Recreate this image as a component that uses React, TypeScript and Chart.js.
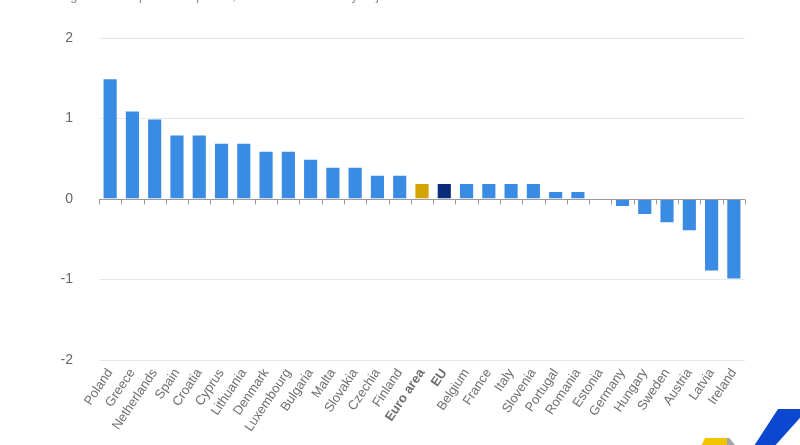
import React, { useEffect, useRef } from "react";
import { Chart, registerables } from "chart.js";

Chart.register(...registerables);

const categories = [
  "Poland", "Greece", "Netherlands", "Spain", "Croatia", "Cyprus", "Lithuania",
  "Denmark", "Luxembourg", "Bulgaria", "Malta", "Slovakia", "Czechia", "Finland",
  "Euro area", "EU", "Belgium", "France", "Italy", "Slovenia", "Portugal",
  "Romania", "Estonia", "Germany", "Hungary", "Sweden", "Austria", "Latvia", "Ireland",
];
const values = [
  1.5, 1.1, 1.0, 0.8, 0.8, 0.7, 0.7,
  0.6, 0.6, 0.5, 0.4, 0.4, 0.3, 0.3,
  0.2, 0.2, 0.2, 0.2, 0.2, 0.2, 0.1,
  0.1, 0.0, -0.1, -0.2, -0.3, -0.4, -0.9, -1.0,
];
const yTicks = [-2, -1, 0, 1, 2];
const boldCategories = ["Euro area", "EU"];
const subtitle = "% change over the previous quarter, based on seasonally adjusted data";

const BLUE = "#3a8be3";
const GOLD = "#d3a400";
const NAVY = "#0b2c7a";

const barColor = (label: string) =>
  label === "Euro area" ? GOLD : label === "EU" ? NAVY : BLUE;

const zeroLinePlugin = {
  id: "zeroLine",
  afterDatasetsDraw(chart: any) {
    const { ctx, chartArea, scales } = chart;
    const x = scales.x;
    const y = scales.y;
    const y0 = Math.round(y.getPixelForValue(0)) + 0.5;
    ctx.save();
    ctx.strokeStyle = "#9a9a9a";
    ctx.lineWidth = 1;
    ctx.beginPath();
    ctx.moveTo(chartArea.left, y0);
    ctx.lineTo(chartArea.right, y0);
    const n = categories.length;
    const w = (chartArea.right - chartArea.left) / n;
    for (let i = 0; i <= n; i++) {
      const px = Math.round(x.getPixelForValue(0) - w / 2 + i * w) + 0.5;
      ctx.moveTo(px, y0);
      ctx.lineTo(px, y0 + 5);
    }
    ctx.stroke();
    ctx.restore();
  },
};

export default function App() {
  const ref = useRef<HTMLCanvasElement>(null);
  useEffect(() => {
    document.body.style.margin = "0";
    const chart = new Chart(ref.current as HTMLCanvasElement, {
      type: "bar",
      data: {
        labels: categories,
        datasets: [
          {
            data: values,
            backgroundColor: categories.map(barColor),
            borderColor: "rgba(255,255,255,0.35)",
            borderWidth: 1,
            barPercentage: 0.68,
            categoryPercentage: 1,
          },
        ],
      },
      options: {
        animation: false,
        responsive: true,
        maintainAspectRatio: false,
        layout: { padding: { top: 38, right: 55, left: 0, bottom: 0 } },
        plugins: { legend: { display: false }, tooltip: { enabled: false } },
        scales: {
          x: {
            grid: { display: false, drawTicks: false },
            border: { display: false },
            afterFit(scale: any) {
              scale.height = 85;
            },
            ticks: {
              autoSkip: false,
              maxRotation: 56,
              minRotation: 56,
              padding: 6,
              color: "#6e6e6e",
              font: (c: any) => ({
                family: "Liberation Sans, Arial, sans-serif",
                size: 13,
                weight: boldCategories.includes(categories[c.index]) ? "bold" : "normal",
              }),
            },
          },
          y: {
            min: -2,
            max: 2,
            afterFit(scale: any) {
              scale.width = 99;
            },
            afterBuildTicks(scale: any) {
              scale.ticks = yTicks.map((v) => ({ value: v }));
            },
            grid: {
              drawTicks: false,
              color: (c: any) => (c.tick && c.tick.value === 0 ? "rgba(0,0,0,0)" : "#e3e7ef"),
            },
            border: { display: false },
            ticks: {
              padding: 26,
              color: "#666666",
              font: { family: "Liberation Sans, Arial, sans-serif", size: 14 },
            },
          },
        },
      },
      plugins: [zeroLinePlugin],
    });
    return () => chart.destroy();
  }, []);

  return (
    <div style={{ position: "absolute", left: 0, top: 0, width: 800, height: 445, overflow: "hidden", background: "#fff" }}>
      <div
        style={{
          position: "absolute",
          left: 27,
          top: -12,
          fontFamily: "Liberation Sans, Arial, sans-serif",
          fontSize: 13,
          color: "#8a8a8a",
          whiteSpace: "nowrap",
        }}
      >
        {subtitle}
      </div>
      <canvas ref={ref} />
      <div
        style={{
          position: "absolute",
          left: 700,
          top: 438,
          width: 34,
          height: 10,
          background: "#f2c400",
          clipPath: "polygon(15% 0, 80% 0, 100% 70%, 100% 100%, 0 100%)",
        }}
      />
      <div
        style={{
          position: "absolute",
          left: 727,
          top: 438,
          width: 8,
          height: 10,
          background: "#a0a4ab",
          clipPath: "polygon(0 0, 30% 0, 100% 70%, 100% 100%, 0 100%)",
        }}
      />
      <div
        style={{
          position: "absolute",
          left: 748,
          top: 409,
          width: 60,
          height: 40,
          background: "#0b47cf",
          clipPath: "polygon(4px 40px, 30px 0, 60px 0, 24px 40px)",
        }}
      />
    </div>
  );
}
